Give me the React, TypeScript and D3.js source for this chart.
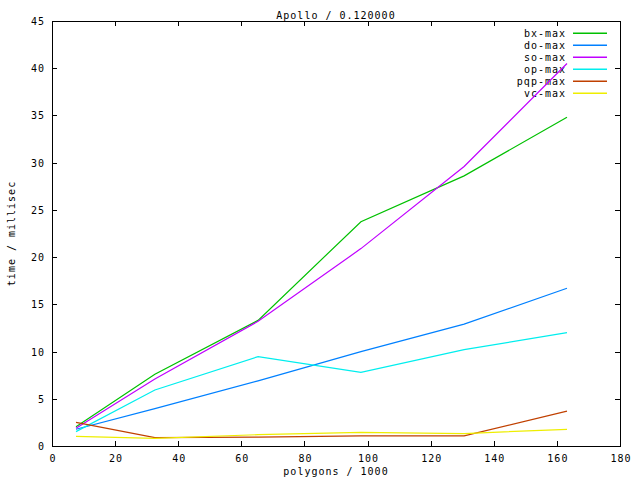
import React from "react";
import * as d3 from "d3";

const xValues = [7.6, 32.6, 65.3, 97.9, 130.6, 163.2];
const bxMax = [2.05, 7.6, 13.3, 23.75, 28.6, 34.8];
const doMax = [1.77, 3.95, 6.9, 10.0, 12.9, 16.7];
const soMax = [1.87, 7.1, 13.2, 20.9, 29.6, 40.5];
const opMax = [1.52, 5.93, 9.46, 7.8, 10.2, 12.0];
const pqpMax = [2.5, 0.88, 0.95, 1.07, 1.07, 3.7];
const vcMax = [1.02, 0.8, 1.2, 1.45, 1.32, 1.77];

const seriesNames = ["bx-max", "do-max", "so-max", "op-max", "pqp-max", "vc-max"];
const seriesValues = [bxMax, doMax, soMax, opMax, pqpMax, vcMax];
const seriesColors = ["#00c000", "#0080ff", "#c000ff", "#00eeee", "#c04000", "#eeee00"];

const xTicks = [0, 20, 40, 60, 80, 100, 120, 140, 160, 180];
const yTicks = [0, 5, 10, 15, 20, 25, 30, 35, 40, 45];

const title = "Apollo / 0.120000";
const xLabel = "polygons / 1000";
const yLabel = "time / millisec";

const W = 640, H = 480;
const L = 52, R = 620, T = 21, B = 446;
const TICK = 5;

const fontStyle: React.CSSProperties = {
  fontFamily: "'DejaVu Sans Mono', monospace",
  fontSize: 10,
  letterSpacing: 1,
};

export default function App() {
  const x = d3.scaleLinear().domain([0, 180]).range([L, R]);
  const y = d3.scaleLinear().domain([0, 45]).range([B, T]);
  const line = d3.line<[number, number]>().x((d) => x(d[0])).y((d) => y(d[1]));

  return (
    <svg
      width={W}
      height={H}
      style={{ position: "absolute", left: 0, top: 0, background: "#fff" }}
    >
      <rect x={0} y={0} width={W} height={H} fill="#fff" />
      <g style={fontStyle} fill="#000">
        <text x={(L + R) / 2} y={19} textAnchor="middle">{title}</text>
        {yTicks.map((t) => (
          <text key={"yl" + t} x={45} y={y(t) + 4} textAnchor="end">{t}</text>
        ))}
        {xTicks.map((t) => (
          <text key={"xl" + t} x={x(t) + 1} y={462} textAnchor="middle">{t}</text>
        ))}
        <text x={(L + R) / 2} y={475} textAnchor="middle">{xLabel}</text>
        <text
          transform={`translate(15,${(T + B) / 2}) rotate(-90)`}
          textAnchor="middle"
        >{yLabel}</text>
        {seriesNames.map((n, i) => (
          <text key={"lt" + n} x={566} y={36.5 + i * 12} textAnchor="end">{n}</text>
        ))}
      </g>
      <g stroke="#000" strokeWidth={1} shapeRendering="crispEdges" fill="none">
        {xTicks.map((t) => (
          <g key={"xt" + t}>
            <line x1={Math.round(x(t)) + 0.5} x2={Math.round(x(t)) + 0.5} y1={B} y2={B - TICK} />
            <line x1={Math.round(x(t)) + 0.5} x2={Math.round(x(t)) + 0.5} y1={T} y2={T + TICK} />
          </g>
        ))}
        {yTicks.map((t) => (
          <g key={"yt" + t}>
            <line x1={L} x2={L + TICK} y1={Math.round(y(t)) + 0.5} y2={Math.round(y(t)) + 0.5} />
            <line x1={R} x2={R - TICK} y1={Math.round(y(t)) + 0.5} y2={Math.round(y(t)) + 0.5} />
          </g>
        ))}
        <rect x={L + 0.5} y={T + 0.5} width={R - L} height={B - T} />
      </g>
      <g fill="none" strokeWidth={1.2}>
        {seriesValues.map((vals, i) => (
          <path
            key={seriesNames[i]}
            d={line(vals.map((v, j) => [xValues[j], v] as [number, number])) || ""}
            stroke={seriesColors[i]}
          />
        ))}
      </g>
      <g stroke="none">
        {seriesNames.map((n, i) => (
          <rect
            key={"ll" + n}
            x={573}
            y={32.5 + i * 12}
            width={34}
            height={1.5}
            fill={seriesColors[i]}
          />
        ))}
      </g>
    </svg>
  );
}
